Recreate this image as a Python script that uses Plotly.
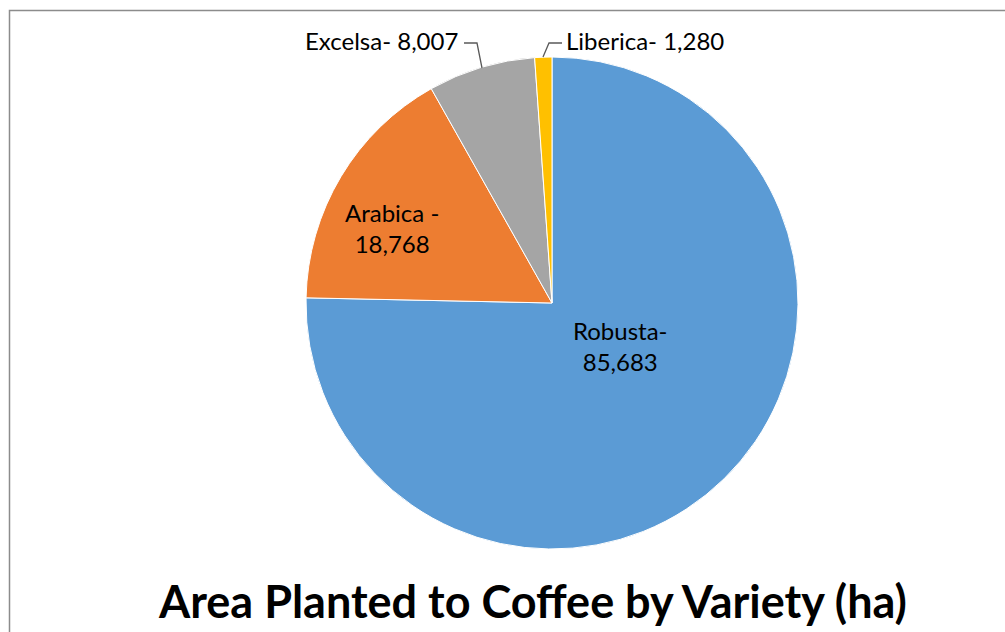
import plotly.graph_objects as go

# Coffee area by variety (hectares)
varieties = ["Robusta", "Arabica", "Excelsa", "Liberica"]
area_ha = [85683, 18768, 8007, 1280]
separators = ["-<br>", " -<br>", "- ", "- "]
colors = ["#5B9BD5", "#ED7D31", "#A5A5A5", "#FFC000"]

W, H = 1005, 632


def px(x):
    return x / W


def py(y):
    return 1 - y / H


labels_text = [f"{v}{s}{a:,}" for v, s, a in zip(varieties, separators, area_ha)]

fig = go.Figure(
    go.Pie(
        labels=varieties,
        values=area_ha,
        sort=False,
        direction="clockwise",
        rotation=0,
        marker=dict(colors=colors, line=dict(color="white", width=1)),
        textinfo="none",
        hoverinfo="label+value",
        showlegend=False,
        domain=dict(x=[px(306), px(798)], y=[py(549), py(57)]),
    )
)

font = dict(family="Lato, Carlito, sans-serif", size=24, color="#000000")

# data labels: (x, y, xanchor)
label_pos = [(620, 346, "center"), (392, 228, "center"), (460, 40, "right"), (564, 40, "left")]
for txt, (x, y, xa) in zip(labels_text, label_pos):
    fig.add_annotation(
        x=px(x), y=py(y), xref="paper", yref="paper",
        text=txt, showarrow=False, xanchor=xa, yanchor="middle",
        align="center", font=font,
    )

# leader lines for outside labels
leader = dict(color="#595959", width=1.3)
fig.add_shape(type="path", xref="paper", yref="paper",
              path=f"M {px(464)} {py(43)} L {px(477)} {py(43)} L {px(482)} {py(68)}",
              line=leader)
fig.add_shape(type="path", xref="paper", yref="paper",
              path=f"M {px(543)} {py(57)} L {px(549)} {py(43)} L {px(562)} {py(43)}",
              line=leader)

# chart frame
fig.add_shape(type="rect", xref="paper", yref="paper",
              x0=px(9.5), y0=py(640), x1=px(1015), y1=py(10.5),
              line=dict(color="#8C8C8C", width=1.5), fillcolor="rgba(0,0,0,0)")

fig.add_annotation(
    x=px(532), y=py(601), xref="paper", yref="paper",
    text="<b>Area Planted to Coffee by Variety (ha)</b>", showarrow=False,
    xanchor="center", yanchor="middle",
    font=dict(family="Lato, Carlito, sans-serif", size=45, color="#000000"),
)

fig.update_layout(
    width=W, height=H,
    margin=dict(l=0, r=0, t=0, b=0),
    paper_bgcolor="white", plot_bgcolor="white",
)

fig.write_html("out.html")
